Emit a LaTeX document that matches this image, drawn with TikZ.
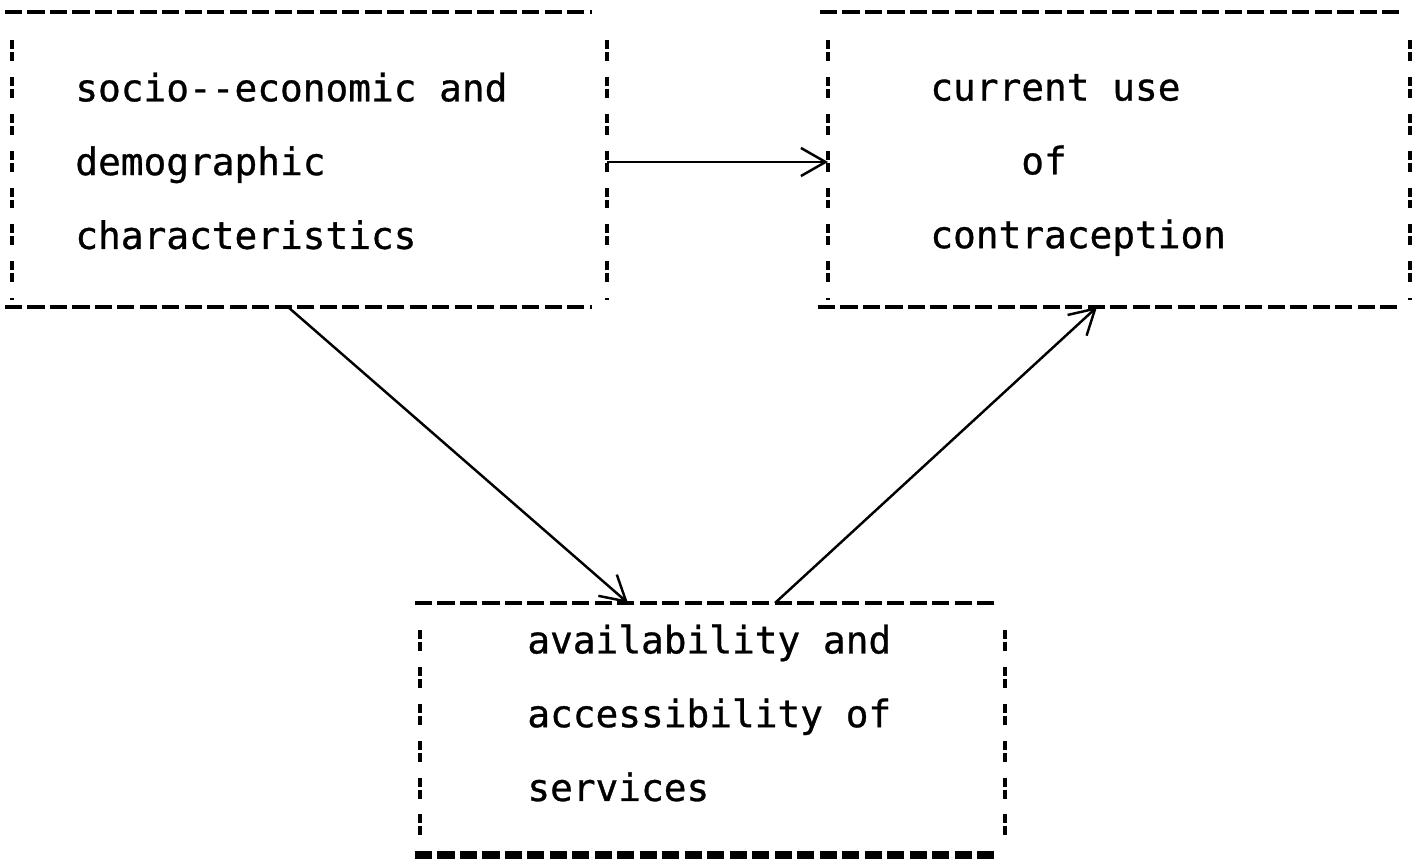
\documentclass[tikz,border=0pt]{standalone}
\usepackage{fontspec}
\newfontfamily\typewriter[FakeBold=0.8]{DejaVu Sans Mono}
\usetikzlibrary{arrows.meta}

\tikzset{
  box text/.style={anchor=west, inner sep=0pt, align=left,
    font=\typewriter\fontsize{21.5pt}{42pt}\selectfont},
  hrule/.style={line width=1.8pt, dash pattern=on 9.7pt off 3.1pt},
  vrule/.style={line width=1.8pt, dash pattern=on 5.1pt off 1.7pt on 5.1pt off 9.1pt},
  flow/.style={line width=1.4pt, -{Straight Barb[length=14pt,width=16pt,line width=1.4pt]}},
}

\begin{document}
\begin{tikzpicture}[x=0.02cm, y=-0.02cm]
  \useasboundingbox (0,0) rectangle (1420,859);

  % texts
  \node[box text] (socio) at (75,161) {socio-{}-economic and\\demographic\\characteristics};
  \node[box text] (use) at (930,165) {current use\\\phantom{curr}of\\contraception};
  \node[box text] (access) at (527,713) {availability and\\accessibility of\\services};

  % socio-economic box
  \draw[hrule] (5,12) -- (592,12);
  \draw[hrule] (5,307) -- (592,307);
  \draw[vrule] (12,40) -- (12,300);
  \draw[vrule] (607,40) -- (607,300);

  % contraception box
  \draw[hrule] (820,12) -- (1402,12);
  \draw[hrule] (818,307) -- (1402,307);
  \draw[vrule] (828,40) -- (828,300);
  \draw[vrule] (1410,40) -- (1410,300);

  % services box
  \draw[hrule] (415,603) -- (997,603);
  \draw[hrule, line width=4pt] (415,855) -- (997,855);
  \draw[vrule] (420,630) -- (420,845);
  \draw[vrule] (1005,630) -- (1005,845);

  % arrow ends on the boxes
  \coordinate (socio-e) at (607,162);
  \coordinate (use-w) at (828,162);
  \coordinate (socio-s) at (288,307);
  \coordinate (access-in) at (628,603);
  \coordinate (access-out) at (775,603);
  \coordinate (use-s) at (1097,307);

  \draw[flow] (socio-e) -- (use-w);
  \draw[flow] (socio-s) -- (access-in);
  \draw[flow] (access-out) -- (use-s);
\end{tikzpicture}
\end{document}
